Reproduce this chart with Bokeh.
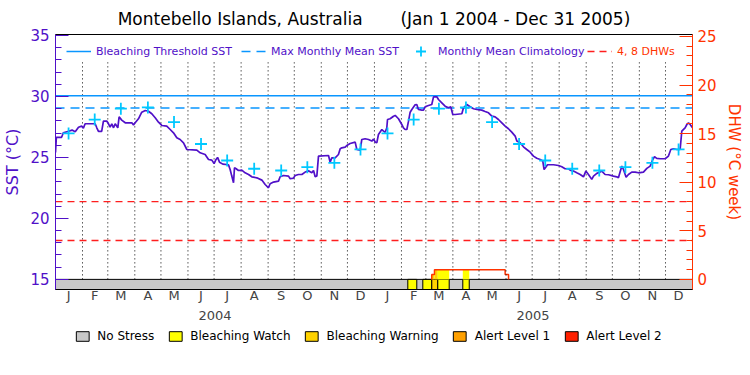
from bokeh.plotting import figure
from bokeh.layouts import column
from bokeh.models import Range1d, LinearAxis, FixedTicker, Legend, LegendItem
from bokeh.embed import file_html
from bokeh.resources import INLINE

FONT = "DejaVu Sans"
PURPLE = "#5010C8"
ORANGE = "#FF3300"
BLUE = "#0A96FF"
CYAN = "#00C8FF"
RED = "#FF1E1E"

NB = "\u00a0"
TITLE = "Montebello Islands, Australia" + NB * 7 + "(Jan 1 2004 - Dec 31 2005)"

# ---- time axis (days since 2004-01-01) ----
month_letters = ["J", "F", "M", "A", "M", "J", "J", "A", "S", "O", "N", "D"]
month_start = [0, 31, 60, 91, 121, 152, 182, 213, 244, 274, 305, 335,
               366, 397, 425, 456, 486, 517, 547, 578, 609, 639, 670, 700, 731]
year_labels = ["2004", "2005"]
year_start = [0, 366, 731]

# ---- climatology / thresholds ----
clim = [26.97, 28.10, 29.00, 29.10, 27.90, 26.10, 24.75, 24.07, 23.93, 24.20, 24.56, 25.66]
mmm = 29.05
threshold = 30.05
dhw_levels = [4, 8]

# ---- SST series ----
sst_day = [0, 1, 7, 9, 15, 19, 22.6, 26.4, 30, 32, 34, 45.5, 47.4, 49.3, 53, 55, 59, 60.8, 62.7, 64.6,
           66.6, 68.5, 70.4, 71.5, 73, 76, 80, 87.6, 89.5, 91.4, 95.2, 99, 103, 106.7, 110.5, 114.4,
           118.2, 122, 127.7, 131.6, 135.4, 139.2, 143, 146.9, 150.7, 162.2, 166, 171.7, 175.6, 179.4,
           182, 184, 186, 188.2, 192, 198.5, 200.4, 202.3, 204.3, 205.4, 207.3, 210, 213.8, 217.6,
           221.5, 225.3, 231, 236.8, 240.6, 244.4, 246.3, 250.2, 255.9, 257.8, 261.6, 267.4, 269.3,
           273.1, 275, 278.8, 282.7, 286.5, 290.3, 294.1, 296.1, 298, 299.9, 301.8, 313.3, 315.2,
           317.1, 320.9, 324.7, 326.7, 328.6, 332.4, 334.3, 338.1, 343.9, 345.8, 349.6, 351.5, 355.3,
           359.2, 363, 365, 367, 368.7, 370.6, 374.5, 376.4, 378.3, 380.2, 381, 384, 387.9, 389.8,
           393.6, 397.4, 399.3, 401.2, 403.2, 405.1, 407, 408.9, 412.7, 414.6, 416.5, 420.4, 422.3,
           424.2, 428, 431.8, 433.8, 437.6, 439.5, 443.3, 447.1, 451, 453.6, 455.9, 458.6, 466.3,
           468.2, 472, 475.8, 479.7, 483.5, 489.2, 493, 496.9, 500.7, 504.5, 508.3, 512.2, 516,
           519.8, 523.6, 527.5, 529.4, 533.2, 537, 540.8, 544.7, 548.5, 552.3, 556.2, 559.2, 560.7,
           563, 564.6, 571.5, 577.2, 581, 584.8, 588.7, 590.6, 594.4, 598.2, 602.1, 605.9, 608.6,
           611.6, 615.4, 617.4, 621.2, 625, 626.9, 630.7, 634.6, 640.3, 644.1, 646, 649.9, 651.8,
           654.8, 657.5, 661.3, 665.2, 669, 674.7, 678.6, 682.4, 685.4, 687.4, 690, 693.9, 699.6,
           703.4, 706.1, 709.2, 713, 716.8, 718.7, 722.5, 724.5, 726.4, 728.3, 731]
sst_val = [25.40, 26.65, 26.65, 27.02, 27.15, 27.24, 27.10, 27.48, 27.57, 27.40, 27.76, 27.76, 27.43, 27.13,
           27.13, 27.97, 27.97, 27.76, 27.48, 27.76, 27.43, 27.76, 27.56, 27.43, 28.33, 28.06, 27.84,
           27.84, 27.67, 27.84, 28.17, 28.71, 28.85, 28.79, 28.58, 28.25, 27.89, 27.62, 27.56, 27.29,
           27.02, 26.61, 26.47, 26.20, 25.65, 25.60, 25.38, 25.24, 24.83, 24.78, 24.50, 24.80, 25.00,
           24.61, 24.45, 24.40, 24.01, 23.47, 22.92, 24.15, 24.07, 23.93, 23.96, 23.74, 23.60, 23.41,
           23.33, 23.14, 22.78, 22.51, 22.84, 22.98, 23.06, 23.41, 23.52, 23.47, 23.25, 23.30, 23.52,
           23.60, 23.60, 23.80, 23.90, 23.74, 23.93, 23.41, 23.47, 25.11, 25.16, 24.61, 24.97, 24.97,
           25.24, 25.71, 25.79, 25.84, 25.98, 26.14, 26.25, 25.65, 25.60, 26.47, 26.53, 26.47, 26.34,
           26.50, 26.25, 26.20, 26.88, 27.29, 27.16, 27.07, 27.43, 28.11, 28.17, 28.38, 28.44, 28.17,
           27.70, 27.43, 27.29, 27.29, 27.97, 28.71, 28.93, 29.31, 29.34, 28.93, 28.88, 28.88, 29.15,
           29.26, 29.34, 29.97, 29.97, 29.75, 29.48, 29.20, 29.07, 29.15, 28.52, 28.52, 28.58, 29.07,
           29.34, 29.15, 28.99, 28.93, 28.88, 28.77, 28.66, 28.38, 28.33, 28.11, 27.84, 27.57, 27.35,
           27.07, 26.75, 26.34, 26.20, 25.87, 25.65, 25.43, 25.11, 24.93, 24.83, 24.70, 24.01, 24.23,
           24.40, 24.40, 24.34, 24.23, 24.07, 24.07, 23.96, 23.88, 23.74, 23.60, 23.41, 23.88, 23.60,
           23.20, 23.47, 23.69, 23.80, 23.88, 23.60, 23.58, 23.47, 23.41, 23.33, 24.29, 24.01, 23.38,
           23.60, 23.80, 23.80, 23.74, 23.80, 24.10, 24.29, 24.83, 25.05, 24.92, 24.89, 24.89, 25.11,
           25.65, 25.71, 25.65, 25.65, 27.15, 27.43, 27.70, 27.84, 27.70, 27.43]

# ---- Degree heating weeks (step changes) ----
dhw_change_day = [431.8, 434.9, 516.0, 519.9]
dhw_after = [0.5, 1.0, 0.5, 0.0]

# ---- bleaching alert status periods ----
stress_names = ["No Stress", "Bleaching Watch", "Bleaching Warning", "Alert Level 1", "Alert Level 2"]
stress_colors = ["#C8C8C8", "#FFFF00", "#FFD200", "#FFA000", "#FF2000"]
stress_start = [404.3, 421.5, 431.8, 438.7, 467.4]
stress_end = [414.6, 431.8, 438.7, 451.8, 474.8]
stress_level = [1, 1, 2, 1, 1]

# ---- scales ----
SST_LO, SST_HI = 14.17, 35.08
K = 12.2 / 9.72           # DHW units per SST unit on the shared pixel scale
DHW_LO, DHW_HI = (SST_LO - 15) * K, (SST_HI - 15) * K
GRID_TOP = 32.79

p = figure(frame_width=637, frame_height=255,
           x_range=Range1d(0, month_start[-1]), y_range=Range1d(SST_LO, SST_HI),
           output_backend="svg", toolbar_location=None,
           min_border_left=49, min_border_right=48, min_border_top=31, min_border_bottom=37,
           title=TITLE)
p.extra_y_ranges = {"dhw": Range1d(DHW_LO, DHW_HI)}
p.xgrid.visible = False
p.ygrid.visible = False
p.outline_line_color = "black"
p.background_fill_color = "white"
p.border_fill_color = "white"

p.title.align = "center"
p.title.text_font = FONT
p.title.text_font_size = "17px"
p.title.text_font_style = "normal"
p.title.text_color = "black"
p.title.standoff = 12

# left SST axis
ya = p.yaxis[0]
ya.ticker = FixedTicker(ticks=[15, 20, 25, 30, 35], minor_ticks=list(range(15, 36)))
ya.axis_label = "SST (°C)"
ya.axis_line_color = PURPLE
ya.major_tick_line_color = PURPLE
ya.minor_tick_line_color = PURPLE
ya.major_label_text_color = PURPLE
ya.axis_label_text_color = PURPLE
ya.major_tick_in = 13
ya.major_tick_out = 0
ya.minor_tick_in = 6
ya.minor_tick_out = 0
ya.major_label_text_font = FONT
ya.major_label_text_font_size = "15px"
ya.axis_label_text_font = FONT
ya.axis_label_text_font_size = "16px"
ya.axis_label_text_font_style = "normal"
ya.major_label_standoff = 6
ya.axis_label_standoff = 5

# right DHW axis
ra = LinearAxis(y_range_name="dhw",
                ticker=FixedTicker(ticks=[0, 5, 10, 15, 20, 25], minor_ticks=list(range(0, 26))),
                axis_label="DHW (°C week)")
ra.axis_line_color = ORANGE
ra.major_tick_line_color = ORANGE
ra.minor_tick_line_color = ORANGE
ra.major_label_text_color = ORANGE
ra.axis_label_text_color = ORANGE
ra.major_tick_in = 13
ra.major_tick_out = 0
ra.minor_tick_in = 6
ra.minor_tick_out = 0
ra.major_label_text_font = FONT
ra.major_label_text_font_size = "15px"
ra.axis_label_text_font = FONT
ra.axis_label_text_font_size = "15px"
ra.axis_label_text_font_style = "normal"
ra.major_label_standoff = 5
ra.axis_label_standoff = 5
p.add_layout(ra, "right")

# month axis
mids = [int((a + b) // 2) for a, b in zip(month_start[:-1], month_start[1:])]
xa = p.xaxis[0]
xa.ticker = FixedTicker(ticks=mids, minor_ticks=[])
xa.major_label_overrides = {m: month_letters[i % 12] for i, m in enumerate(mids)}
xa.major_tick_line_color = None
xa.minor_tick_line_color = None
xa.major_tick_in = 0
xa.major_tick_out = 0
xa.minor_tick_in = 0
xa.minor_tick_out = 0
xa.axis_line_color = "black"
xa.major_label_text_font = FONT
xa.major_label_text_font_size = "13px"
xa.major_label_standoff = -2

# year axis
ymids = [int((a + b) // 2) for a, b in zip(year_start[:-1], year_start[1:])]
yx = LinearAxis(ticker=FixedTicker(ticks=ymids, minor_ticks=[]),
                major_label_overrides={m: year_labels[i] for i, m in enumerate(ymids)})
yx.axis_line_color = None
yx.major_tick_line_color = None
yx.minor_tick_line_color = None
yx.major_tick_in = 0
yx.major_tick_out = 0
yx.minor_tick_in = 0
yx.minor_tick_out = 0
yx.major_label_text_font = FONT
yx.major_label_text_font_size = "13px"
yx.major_label_standoff = 5
p.add_layout(yx, "below")

# stress bar
p.quad(left=[month_start[0]], right=[month_start[-1]], bottom=[SST_LO], top=[15],
       fill_color=stress_colors[0], line_color="black", line_width=1)
p.quad(left=stress_start, right=stress_end, bottom=SST_LO, top=15,
       fill_color=[stress_colors[k] for k in stress_level], line_color="black", line_width=1)


def dhw_at(t):
    v = 0.0
    for d, a in zip(dhw_change_day, dhw_after):
        if t >= d:
            v = a
    return v


fl, fr, ft, fc = [], [], [], []
for s, e, k in zip(stress_start, stress_end, stress_level):
    br = [s] + [d for d in dhw_change_day if s < d < e] + [e]
    for a, b in zip(br[:-1], br[1:]):
        v = dhw_at((a + b) / 2)
        if v > 0:
            fl.append(a); fr.append(b); ft.append(v); fc.append(stress_colors[k])
p.quad(left=fl, right=fr, bottom=0, top=ft, fill_color=fc, line_color=None, y_range_name="dhw")

dx, dy, prev = [], [], 0.0
for d, v in zip(dhw_change_day, dhw_after):
    dx += [d, d]
    dy += [prev, v]
    prev = v
p.line(dx, dy, line_color=ORANGE, line_width=1.5, y_range_name="dhw")

# month separators
inner = month_start[1:-1]
p.segment(x0=inner, y0=15, x1=inner, y1=GRID_TOP, line_color="black", line_dash="1 3", line_width=1)

# DHW reference levels
r_dhw = p.segment(x0=month_start[0], x1=month_start[-1], y0=dhw_levels, y1=dhw_levels,
                  line_color=RED, line_dash="7 5", line_width=1.3, y_range_name="dhw")

r_thr = p.line([month_start[0], month_start[-1]], [threshold, threshold], line_color=BLUE, line_width=1.5)
r_mmm = p.line([month_start[0], month_start[-1]], [mmm, mmm], line_color=BLUE, line_width=1.5,
               line_dash="9 6")

p.line(sst_day, sst_val, line_color=PURPLE, line_width=1.7)

r_clim = p.scatter(mids, clim * 2, marker="cross", size=12, line_color=CYAN, line_width=1.8)


def top_legend(items, x, color):
    return Legend(items=items, orientation="horizontal", location=(x, 223), padding=0, margin=0,
                  spacing=9, glyph_width=25, glyph_height=30, label_height=30, label_standoff=5,
                  label_text_color=color, label_text_font=FONT, label_text_font_size="11px",
                  background_fill_alpha=0, border_line_color=None)


p.add_layout(top_legend([LegendItem(label="Bleaching Threshold SST", renderers=[r_thr]),
                         LegendItem(label="Max Monthly Mean SST", renderers=[r_mmm]),
                         LegendItem(label="Monthly Mean Climatology", renderers=[r_clim])], 11, PURPLE))
p.add_layout(top_legend([LegendItem(label="4, 8 DHWs", renderers=[r_dhw])], 532, ORANGE))

# bottom legend for alert status: a separate strip under the chart
p2 = figure(width=734, height=20, output_backend="svg", toolbar_location=None,
            x_axis_location=None, y_axis_location=None, min_border=0,
            x_range=Range1d(0, 1), y_range=Range1d(0, 1))
p2.outline_line_color = None
p2.xgrid.visible = False
p2.ygrid.visible = False
leg_items = []
for name, col in zip(stress_names, stress_colors):
    # legend swatch proxy, kept outside the strip's visible range
    r = p2.quad(left=[-3], right=[-2], bottom=[-3], top=[-2], fill_color=col, line_color="black")
    leg_items.append(LegendItem(label=name, renderers=[r]))
bl = Legend(items=leg_items, orientation="horizontal", location="center", padding=0, margin=0,
            spacing=13, glyph_width=16, glyph_height=12, label_height=12, label_standoff=7,
            label_text_font=FONT, label_text_font_size="12px", label_text_color="black",
            background_fill_alpha=0, border_line_color=None)
p2.add_layout(bl)

layout = column(p, p2, spacing=0)
open("out.html", "w").write(file_html(layout, INLINE))
